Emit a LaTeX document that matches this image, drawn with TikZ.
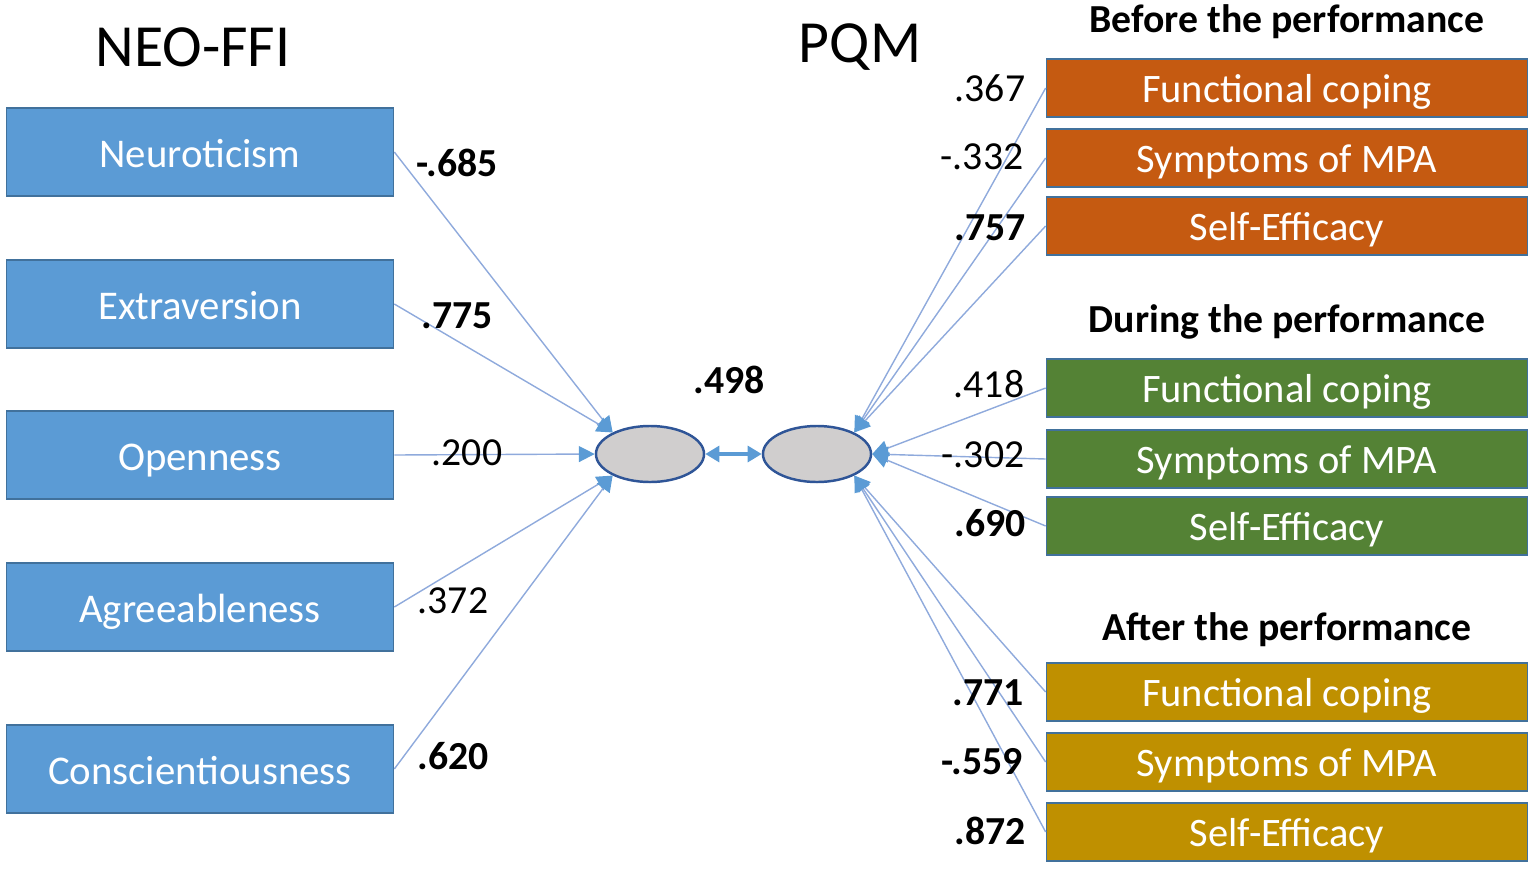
\documentclass[tikz,border=0pt]{standalone}
\usepackage{fontspec}
\setmainfont{Carlito}
\usetikzlibrary{arrows.meta,shapes.geometric}
\definecolor{neoblue}{HTML}{5B9BD5}
\definecolor{neoedge}{HTML}{41719C}
\definecolor{linkblue}{HTML}{8FAADC}
\definecolor{latgray}{HTML}{D0CECE}
\definecolor{latedge}{HTML}{2F5597}
\definecolor{colbefore}{HTML}{C55A11}
\definecolor{colduring}{HTML}{548235}
\definecolor{colafter}{HTML}{BF9000}

\begin{document}
\begin{tikzpicture}[x=0.01cm,y=-0.01cm,
    every node/.style={font=\fontsize{11.3}{13}\selectfont},
    trait/.style={draw=neoedge,fill=neoblue,text=white,minimum width=3.87cm,minimum height=0.88cm,inner sep=0pt,
      font=\fontsize{11.6}{13}\selectfont,text height=8.6pt,text depth=0pt},
    pqmbox/.style={draw=neoedge,text=white,minimum width=4.81cm,minimum height=0.58cm,inner sep=0pt,
      font=\fontsize{11.5}{13}\selectfont,text height=8pt,text depth=0pt},
    latent/.style={ellipse,draw=latedge,fill=latgray,line width=0.7pt,minimum width=1.08cm,minimum height=0.56cm,inner sep=0pt},
    title/.style={font=\fontsize{17}{20}\selectfont},
    phase/.style={font=\fontsize{11.3}{13}\selectfont\bfseries},
    load/.style={draw=linkblue,line width=0.4pt,-{Triangle[length=4.5pt,width=4.5pt,color=neoblue]}},
    cov/.style={draw=neoblue,line width=1.1pt,{Triangle[length=4pt,width=4.5pt]}-{Triangle[length=4pt,width=4.5pt]}}]
    \useasboundingbox (0,0) rectangle (1535,869);
    % titles
    \node[title] (neoffi) at (193,47) {NEO-FFI};
    \node[title] (pqm) at (860,47) {PQM};
    \node[phase] (before) at (1287,22) {Before the performance};
    \node[phase] (during) at (1287,322) {During the performance};
    \node[phase] (after) at (1287,630) {After the performance};
    % personality traits
    \foreach \name/\txt/\y in {neu/Neuroticism/152, ext/Extraversion/304, ope/Openness/455,
      agr/Agreeableness/607, con/Conscientiousness/769}
      \node[trait] (\name) at (200,\y) {\txt};
    % PQM scales
    \foreach \name/\txt/\y/\col in {bfc/Functional coping/88/colbefore, bsy/Symptoms of MPA/158/colbefore,
      bse/Self-Efficacy/226/colbefore, dfc/Functional coping/388/colduring, dsy/Symptoms of MPA/459/colduring,
      dse/Self-Efficacy/526/colduring, afc/Functional coping/692/colafter, asy/Symptoms of MPA/762/colafter,
      ase/Self-Efficacy/832/colafter}
      \node[pqmbox,fill=\col] (\name) at (1287,\y) {\txt};
    % latent variables
    \node[latent] (lel) at (650,454) {};
    \node[latent] (rel) at (817,454) {};
    % paths
    \foreach \b in {neu,ext} \draw[load] (\b.east) -- (lel.150);
    \draw[load] (ope.east) -- (lel.west);
    \foreach \b in {agr,con} \draw[load] (\b.east) -- (lel.210);
    \foreach \b in {bfc,bsy,bse} \draw[load] (\b.west) -- (rel.30);
    \foreach \b in {dfc,dsy,dse} \draw[load] (\b.west) -- (rel.east);
    \foreach \b in {afc,asy,ase} \draw[load] (\b.west) -- (rel.330);
    \draw[cov] (lel.east) -- (rel.west);
    % loadings
    \foreach \v/\x/\y [count=\i] in {-.685/457/163, .775/457/316, .620/453/756, .498/729/380,
      .757/990/228, .690/990/523, .771/988/693, -.559/982/762, .872/990/831}
      \node (bw\i) at (\x,\y) {\textbf{\v}};
    \foreach \v/\x/\y [count=\i] in {.200/467/453, .372/453/601, .367/990/88, -.332/982/157,
      .418/989/384, -.302/983/455}
      \node (rw\i) at (\x,\y) {\v};
\end{tikzpicture}
\end{document}
